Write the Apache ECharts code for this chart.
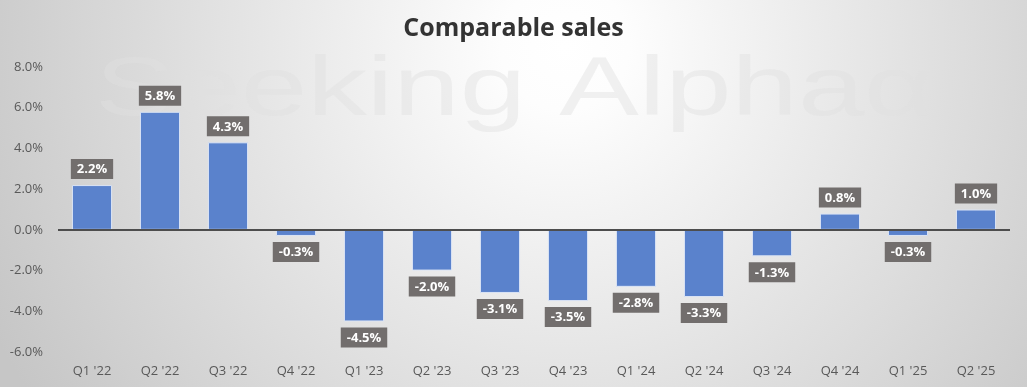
<!DOCTYPE html>
<html><head><meta charset="utf-8">
<script src="https://cdn.jsdelivr.net/npm/echarts@6/dist/echarts.min.js"></script>
<style>html,body{margin:0;padding:0;}#c{width:1027px;height:387px;}</style>
</head><body><div id="c"></div>
<script>
const categories = ["Q1 '22","Q2 '22","Q3 '22","Q4 '22","Q1 '23","Q2 '23","Q3 '23","Q4 '23","Q1 '24","Q2 '24","Q3 '24","Q4 '24","Q1 '25","Q2 '25"];
const comparableSales = [2.2, 5.8, 4.3, -0.3, -4.5, -2.0, -3.1, -3.5, -2.8, -3.3, -1.3, 0.8, -0.3, 1.0];
const yTicks = {min: -6, max: 8, interval: 2};

const chart = echarts.init(document.getElementById('c'));
const font = '"Open Sans", "Noto Sans", sans-serif';
chart.setOption({
  backgroundColor: {
    type: 'radial', x: 0.55, y: 0.12, r: 1.65,
    colorStops: [{offset: 0, color: '#ffffff'}, {offset: 0.1, color: '#fdfdfd'}, {offset: 1, color: '#c6c6c6'}]
  },
  title: {
    text: 'Comparable sales', left: 'center', top: 11,
    textStyle: {fontFamily: font, fontWeight: 'bold', fontSize: 25, color: '#333333'}
  },
  graphic: [{
    type: 'text', left: 95, top: 50, silent: true, z: -1, scaleX: 1.42,
    style: {text: 'Seeking Alpha\u03b1', font: '84px "Liberation Sans", sans-serif', fill: 'rgba(225,225,225,0.45)'}
  }],
  grid: {left: 58, right: 17, top: 67, bottom: 35},
  xAxis: {
    type: 'category', data: categories,
    axisLine: {show: false, onZero: false}, axisTick: {show: false},
    axisLabel: {fontFamily: font, fontSize: 13, color: '#595959', margin: 13}
  },
  yAxis: {
    type: 'value', min: yTicks.min, max: yTicks.max, interval: yTicks.interval,
    splitLine: {show: false}, axisLine: {show: false}, axisTick: {show: false},
    axisLabel: {fontFamily: font, fontSize: 13, color: '#595959', margin: 15, formatter: v => v.toFixed(1) + '%'}
  },
  series: [{
    type: 'bar', barWidth: '59%',
    data: comparableSales.map(v => ({
      value: v,
      label: {position: v >= 0 ? 'top' : 'bottom'}
    })),
    itemStyle: {color: '#5a82cc', borderColor: '#dbe4f5', borderWidth: 1},
    label: {
      show: true, distance: 6, formatter: p => p.value.toFixed(1) + '%',
      fontFamily: font, fontWeight: 'bold', fontSize: 13, color: '#ffffff',
      backgroundColor: '#726e6d', padding: [4, 6, 3, 6]
    },
    markLine: {
      silent: true, symbol: 'none', label: {show: false},
      lineStyle: {color: '#4d4d4d', width: 2, type: 'solid'},
      data: [{yAxis: 0}]
    }
  }]
});
</script>
</body></html>
